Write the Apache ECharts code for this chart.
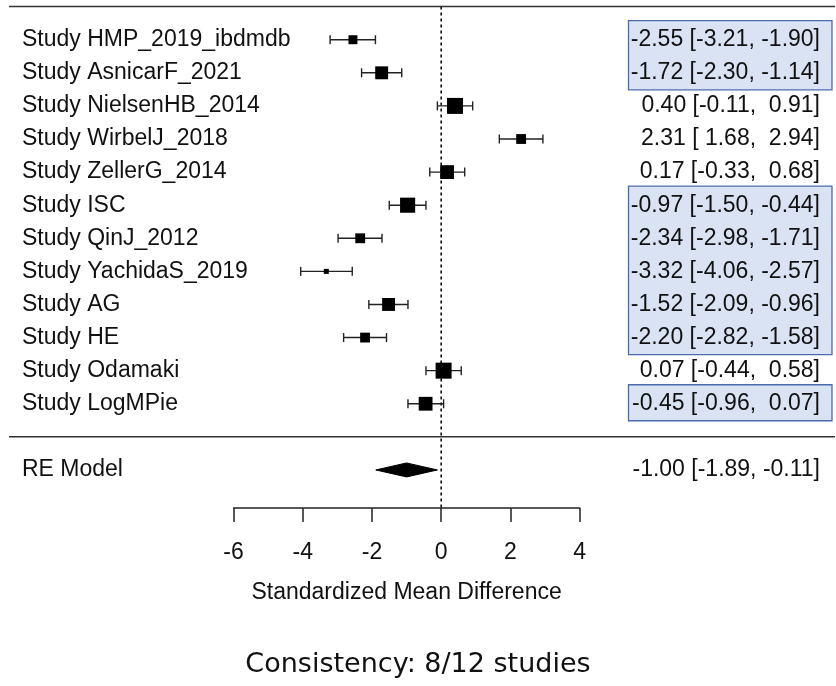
<!DOCTYPE html>
<html>
<head>
<meta charset="utf-8">
<script src="https://cdn.jsdelivr.net/npm/echarts@6/dist/echarts.min.js"></script>
<style>
  html, body { margin: 0; padding: 0; background: #ffffff; }
  #chart { width: 836px; height: 686px; }
</style>
</head>
<body>
<div id="chart"></div>
<script>
// Per-study standardized mean differences with 95% confidence intervals
const studies = [
  'Study HMP_2019_ibdmdb', 'Study AsnicarF_2021', 'Study NielsenHB_2014',
  'Study WirbelJ_2018', 'Study ZellerG_2014', 'Study ISC', 'Study QinJ_2012',
  'Study YachidaS_2019', 'Study AG', 'Study HE', 'Study Odamaki', 'Study LogMPie'
];
const estimates = [-2.55, -1.72, 0.40, 2.31, 0.17, -0.97, -2.34, -3.32, -1.52, -2.20, 0.07, -0.45];
const lowerCI   = [-3.21, -2.30, -0.11, 1.68, -0.33, -1.50, -2.98, -4.06, -2.09, -2.82, -0.44, -0.96];
const upperCI   = [-1.90, -1.14, 0.91, 2.94, 0.68, -0.44, -1.71, -2.57, -0.96, -1.58, 0.58, 0.07];
// Random-effects weights (%)
const weights   = [8.23, 8.32, 8.39, 8.25, 8.34, 8.37, 8.25, 8.14, 8.32, 8.25, 8.39, 8.34];

// Pooled random-effects estimate: [estimate, lower, upper]
const summaryLabel = 'RE Model';
const summaryValues = [-1.00, -1.89, -0.11];

const axisTicks = [-6, -4, -2, 0, 2, 4];
const axisTitle = 'Standardized Mean Difference';

// ---- derived layout helpers ----
const n = studies.length;
const FONT = '"Liberation Sans", Arial, sans-serif';
const FONT_SIZE = 23;
const TEXT_COLOR = '#111111';
const fmt = v => v.toFixed(2);
const padded = v => (v < 0 ? '' : ' ') + fmt(v);
const annotation = (e, lo, hi) => `${fmt(e)} [${padded(lo)}, ${padded(hi)}]`;

// square side grows linearly with weight (smallest 5px, largest 16px)
const wMin = Math.min(...weights), wMax = Math.max(...weights);
const boxSide = w => 5 + 11 * (w - wMin) / (wMax - wMin);

// study i sits on row n - i; the pooled estimate sits on row -1
const rowOf = i => n - i;
const studyData = studies.map((s, i) => [rowOf(i), estimates[i], lowerCI[i], upperCI[i], boxSide(weights[i])]);

// studies whose effect points the same way as the pooled estimate
const consistent = estimates.map(e => Math.sign(e) === Math.sign(summaryValues[0]));
const nConsistent = consistent.filter(Boolean).length;

// contiguous runs of consistent studies -> highlight boxes [firstRow, lastRow]
const runs = [];
consistent.forEach((c, i) => {
  if (!c) return;
  const last = runs[runs.length - 1];
  if (last && last[1] === rowOf(i) + 1) last[1] = rowOf(i);
  else runs.push([rowOf(i), rowOf(i)]);
});

const chart = echarts.init(document.getElementById('chart'), null, { renderer: 'canvas' });

function textEl(x, y, text, align) {
  return {
    type: 'text', x: x, y: y,
    style: { text: text, fill: TEXT_COLOR, font: FONT_SIZE + 'px ' + FONT, align: align, verticalAlign: 'middle' },
    z2: 10
  };
}

const option = {
  animation: false,
  backgroundColor: '#ffffff',
  title: {
    text: `Consistency: ${nConsistent}/${n} studies`,
    left: 'center',
    top: 646,
    textStyle: { fontFamily: '"DejaVu Sans", sans-serif', fontSize: 27, fontWeight: 'normal', color: '#111111' }
  },
  grid: [
    { left: 0, top: 0, width: 836, height: 508 },
    { left: 233.6, top: 500, width: 346, height: 8 }
  ],
  xAxis: [
    { type: 'value', gridIndex: 0, min: -12.75, max: 11.41, show: false },
    {
      type: 'value', gridIndex: 1, position: 'bottom',
      min: axisTicks[0], max: axisTicks[axisTicks.length - 1], interval: 2,
      axisLine: { show: true, lineStyle: { color: '#222', width: 1.5 } },
      axisTick: { show: true, inside: false, length: 14, lineStyle: { color: '#222', width: 1.5 } },
      axisLabel: { show: true, margin: 33, fontSize: FONT_SIZE, fontFamily: FONT, color: TEXT_COLOR },
      splitLine: { show: false },
      name: axisTitle, nameLocation: 'middle', nameGap: 73,
      nameTextStyle: { fontSize: FONT_SIZE, fontFamily: FONT, color: TEXT_COLOR }
    }
  ],
  yAxis: [
    { type: 'value', gridIndex: 0, min: -2.15, max: 13.2, show: false },
    { type: 'value', gridIndex: 1, min: 0, max: 1, show: false }
  ],
  series: [
    {
      // highlight boxes behind the annotations of consistent studies
      type: 'custom', xAxisIndex: 0, yAxisIndex: 0, z: 1,
      data: runs,
      renderItem(params, api) {
        const cs = params.coordSys;
        const yTop = api.coord([0, api.value(0)])[1] - 19;
        const yBot = api.coord([0, api.value(1)])[1] + 17;
        const right = cs.x + cs.width - 4;
        return {
          type: 'rect',
          shape: { x: right - 203.5, y: yTop, width: 203.5, height: yBot - yTop },
          style: { fill: '#dae3f3', stroke: '#4a6cad', lineWidth: 1.3 }
        };
      }
    },
    {
      // horizontal rules and the dotted line of no effect
      type: 'custom', xAxisIndex: 0, yAxisIndex: 0, z: 2,
      data: [[13], [0]],
      renderItem(params, api) {
        const cs = params.coordSys;
        const y = api.coord([0, api.value(0)])[1];
        const children = [{
          type: 'line',
          shape: { x1: cs.x + 9, y1: y, x2: cs.x + cs.width - 1, y2: y },
          style: { stroke: '#333', lineWidth: 1.5 }
        }];
        if (params.dataIndex === 0) {
          const x0 = api.coord([0, 0])[0];
          children.push({
            type: 'line',
            shape: { x1: x0, y1: y, x2: x0, y2: cs.y + cs.height },
            style: { stroke: '#111', lineWidth: 1.6, lineDash: [3, 3] }
          });
        }
        return { type: 'group', children: children };
      }
    },
    {
      // study rows: label, CI whiskers, weighted square, annotation
      type: 'custom', xAxisIndex: 0, yAxisIndex: 0, z: 3,
      data: studyData,
      encode: { x: [1, 2, 3], y: 0 },
      renderItem(params, api) {
        const cs = params.coordSys;
        const i = params.dataIndex;
        const row = api.value(0);
        const pE = api.coord([api.value(1), row]);
        const pL = api.coord([api.value(2), row]);
        const pR = api.coord([api.value(3), row]);
        const s = api.value(4);
        const y = pE[1], cap = 4.5;
        const ls = { stroke: '#222', lineWidth: 1.4 };
        return {
          type: 'group',
          children: [
            { type: 'line', shape: { x1: pL[0], y1: y, x2: pR[0], y2: y }, style: ls },
            { type: 'line', shape: { x1: pL[0], y1: y - cap, x2: pL[0], y2: y + cap }, style: ls },
            { type: 'line', shape: { x1: pR[0], y1: y - cap, x2: pR[0], y2: y + cap }, style: ls },
            { type: 'rect', shape: { x: pE[0] - s / 2, y: y - s / 2, width: s, height: s }, style: { fill: '#000' } },
            textEl(cs.x + 22, y, studies[i], 'left'),
            textEl(cs.x + cs.width - 16, y, annotation(estimates[i], lowerCI[i], upperCI[i]), 'right')
          ]
        };
      }
    },
    {
      // pooled estimate diamond
      type: 'custom', xAxisIndex: 0, yAxisIndex: 0, z: 3,
      data: [[-1, summaryValues[0], summaryValues[1], summaryValues[2]]],
      encode: { x: [1, 2, 3], y: 0 },
      renderItem(params, api) {
        const cs = params.coordSys;
        const row = api.value(0);
        const pE = api.coord([api.value(1), row]);
        const pL = api.coord([api.value(2), row]);
        const pR = api.coord([api.value(3), row]);
        const y = pE[1], h = 7;
        return {
          type: 'group',
          children: [
            {
              type: 'polygon',
              shape: { points: [[pL[0], y], [pE[0], y - h], [pR[0], y], [pE[0], y + h]] },
              style: { fill: '#000', stroke: '#000', lineWidth: 1 }
            },
            textEl(cs.x + 22, y, summaryLabel, 'left'),
            textEl(cs.x + cs.width - 16, y, annotation(summaryValues[0], summaryValues[1], summaryValues[2]), 'right')
          ]
        };
      }
    }
  ]
};

chart.setOption(option);
</script>
</body>
</html>
